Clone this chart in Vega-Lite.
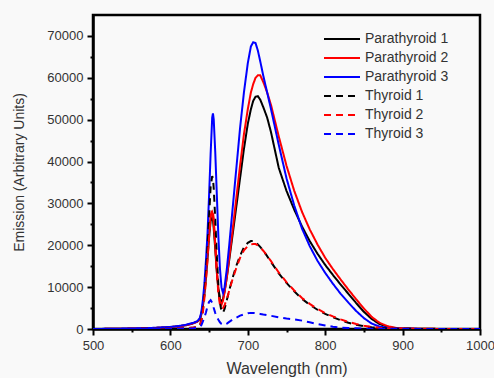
{
  "$schema": "https://vega.github.io/schema/vega-lite/v6.json",
  "width": 387,
  "height": 314,
  "autosize": "none",
  "padding": {"left": 93, "top": 15, "right": 14, "bottom": 49},
  "background": "#f9f9f9",
  "config": {
    "view": {"stroke": "#000", "strokeWidth": 2.5},
    "font": "Liberation Sans"
  },
  "data": {
    "values": [
      {"w": 500, "Parathyroid 1": 0, "Parathyroid 2": 0, "Parathyroid 3": 0, "Thyroid 1": 0, "Thyroid 2": 0, "Thyroid 3": 0},
      {"w": 525, "Parathyroid 1": 50, "Parathyroid 2": 50, "Parathyroid 3": 60, "Thyroid 1": 0, "Thyroid 2": 0, "Thyroid 3": 0},
      {"w": 550, "Parathyroid 1": 100, "Parathyroid 2": 100, "Parathyroid 3": 120, "Thyroid 1": 20, "Thyroid 2": 20, "Thyroid 3": 10},
      {"w": 575, "Parathyroid 1": 200, "Parathyroid 2": 200, "Parathyroid 3": 250, "Thyroid 1": 50, "Thyroid 2": 50, "Thyroid 3": 30},
      {"w": 600, "Parathyroid 1": 450, "Parathyroid 2": 450, "Parathyroid 3": 500, "Thyroid 1": 100, "Thyroid 2": 100, "Thyroid 3": 50},
      {"w": 610, "Parathyroid 1": 650, "Parathyroid 2": 650, "Parathyroid 3": 700, "Thyroid 1": 150, "Thyroid 2": 150, "Thyroid 3": 70},
      {"w": 620, "Parathyroid 1": 900, "Parathyroid 2": 900, "Parathyroid 3": 1000, "Thyroid 1": 200, "Thyroid 2": 200, "Thyroid 3": 100},
      {"w": 630, "Parathyroid 1": 1400, "Parathyroid 2": 1400, "Parathyroid 3": 1500, "Thyroid 1": 350, "Thyroid 2": 350, "Thyroid 3": 200},
      {"w": 635, "Parathyroid 1": 1800, "Parathyroid 2": 1800, "Parathyroid 3": 1900, "Thyroid 1": 500, "Thyroid 2": 500, "Thyroid 3": 300},
      {"w": 638, "Parathyroid 1": 2200, "Parathyroid 2": 2300, "Parathyroid 3": 2600, "Thyroid 1": 900, "Thyroid 2": 800, "Thyroid 3": 500},
      {"w": 640, "Parathyroid 1": 3500, "Parathyroid 2": 3800, "Parathyroid 3": 4000, "Thyroid 1": 2000, "Thyroid 2": 1800, "Thyroid 3": 900},
      {"w": 642, "Parathyroid 1": 5500, "Parathyroid 2": 6000, "Parathyroid 3": 7000, "Thyroid 1": 4500, "Thyroid 2": 4000, "Thyroid 3": 1800},
      {"w": 644, "Parathyroid 1": 8500, "Parathyroid 2": 9000, "Parathyroid 3": 11000, "Thyroid 1": 8500, "Thyroid 2": 7500, "Thyroid 3": 2800},
      {"w": 646, "Parathyroid 1": 12500, "Parathyroid 2": 13000, "Parathyroid 3": 16500, "Thyroid 1": 13500, "Thyroid 2": 11500, "Thyroid 3": 4000},
      {"w": 648, "Parathyroid 1": 17000, "Parathyroid 2": 18000, "Parathyroid 3": 23000, "Thyroid 1": 19500, "Thyroid 2": 16500, "Thyroid 3": 5500},
      {"w": 650, "Parathyroid 1": 22000, "Parathyroid 2": 23000, "Parathyroid 3": 32000, "Thyroid 1": 27000, "Thyroid 2": 22000, "Thyroid 3": 6500},
      {"w": 652, "Parathyroid 1": 25800, "Parathyroid 2": 27000, "Parathyroid 3": 42000, "Thyroid 1": 34000, "Thyroid 2": 27000, "Thyroid 3": 6900},
      {"w": 654, "Parathyroid 1": 26600, "Parathyroid 2": 27900, "Parathyroid 3": 50500, "Thyroid 1": 36500, "Thyroid 2": 28500, "Thyroid 3": 6300},
      {"w": 655, "Parathyroid 1": 26000, "Parathyroid 2": 27300, "Parathyroid 3": 51500, "Thyroid 1": 36000, "Thyroid 2": 28000, "Thyroid 3": 5800},
      {"w": 656, "Parathyroid 1": 24000, "Parathyroid 2": 25500, "Parathyroid 3": 50000, "Thyroid 1": 33500, "Thyroid 2": 26000, "Thyroid 3": 5000},
      {"w": 658, "Parathyroid 1": 19000, "Parathyroid 2": 20000, "Parathyroid 3": 42000, "Thyroid 1": 26000, "Thyroid 2": 20000, "Thyroid 3": 3800},
      {"w": 660, "Parathyroid 1": 13500, "Parathyroid 2": 14000, "Parathyroid 3": 32000, "Thyroid 1": 17500, "Thyroid 2": 13500, "Thyroid 3": 2900},
      {"w": 662, "Parathyroid 1": 9500, "Parathyroid 2": 9300, "Parathyroid 3": 22000, "Thyroid 1": 10500, "Thyroid 2": 8500, "Thyroid 3": 2200},
      {"w": 664, "Parathyroid 1": 7200, "Parathyroid 2": 6500, "Parathyroid 3": 14500, "Thyroid 1": 6300, "Thyroid 2": 5800, "Thyroid 3": 1600},
      {"w": 666, "Parathyroid 1": 6500, "Parathyroid 2": 5800, "Parathyroid 3": 10000, "Thyroid 1": 4200, "Thyroid 2": 5000, "Thyroid 3": 1200},
      {"w": 668, "Parathyroid 1": 7200, "Parathyroid 2": 6800, "Parathyroid 3": 8600, "Thyroid 1": 3900, "Thyroid 2": 5000, "Thyroid 3": 1000},
      {"w": 670, "Parathyroid 1": 9000, "Parathyroid 2": 8800, "Parathyroid 3": 10000, "Thyroid 1": 4800, "Thyroid 2": 5700, "Thyroid 3": 1050},
      {"w": 673, "Parathyroid 1": 12500, "Parathyroid 2": 12500, "Parathyroid 3": 14500, "Thyroid 1": 7000, "Thyroid 2": 7200, "Thyroid 3": 1300},
      {"w": 676, "Parathyroid 1": 16500, "Parathyroid 2": 17000, "Parathyroid 3": 20000, "Thyroid 1": 9200, "Thyroid 2": 9200, "Thyroid 3": 1700},
      {"w": 680, "Parathyroid 1": 22000, "Parathyroid 2": 23000, "Parathyroid 3": 28000, "Thyroid 1": 12000, "Thyroid 2": 11700, "Thyroid 3": 2200},
      {"w": 685, "Parathyroid 1": 29000, "Parathyroid 2": 31000, "Parathyroid 3": 38000, "Thyroid 1": 15000, "Thyroid 2": 14500, "Thyroid 3": 2700},
      {"w": 690, "Parathyroid 1": 36000, "Parathyroid 2": 39000, "Parathyroid 3": 48000, "Thyroid 1": 17500, "Thyroid 2": 17000, "Thyroid 3": 3200},
      {"w": 695, "Parathyroid 1": 43000, "Parathyroid 2": 46500, "Parathyroid 3": 56500, "Thyroid 1": 19500, "Thyroid 2": 18800, "Thyroid 3": 3500},
      {"w": 700, "Parathyroid 1": 49000, "Parathyroid 2": 52500, "Parathyroid 3": 63500, "Thyroid 1": 20600, "Thyroid 2": 19800, "Thyroid 3": 3750},
      {"w": 704, "Parathyroid 1": 52500, "Parathyroid 2": 56500, "Parathyroid 3": 67500, "Thyroid 1": 21000, "Thyroid 2": 20200, "Thyroid 3": 3850},
      {"w": 707, "Parathyroid 1": 54500, "Parathyroid 2": 58500, "Parathyroid 3": 68500, "Thyroid 1": 21000, "Thyroid 2": 20300, "Thyroid 3": 3850},
      {"w": 710, "Parathyroid 1": 55500, "Parathyroid 2": 60000, "Parathyroid 3": 68300, "Thyroid 1": 20700, "Thyroid 2": 20300, "Thyroid 3": 3800},
      {"w": 713, "Parathyroid 1": 55600, "Parathyroid 2": 60600, "Parathyroid 3": 66500, "Thyroid 1": 20200, "Thyroid 2": 20000, "Thyroid 3": 3700},
      {"w": 716, "Parathyroid 1": 54800, "Parathyroid 2": 60600, "Parathyroid 3": 64000, "Thyroid 1": 19600, "Thyroid 2": 19500, "Thyroid 3": 3600},
      {"w": 720, "Parathyroid 1": 53000, "Parathyroid 2": 59000, "Parathyroid 3": 60500, "Thyroid 1": 18700, "Thyroid 2": 18700, "Thyroid 3": 3450},
      {"w": 725, "Parathyroid 1": 50500, "Parathyroid 2": 56500, "Parathyroid 3": 56500, "Thyroid 1": 17400, "Thyroid 2": 17500, "Thyroid 3": 3300},
      {"w": 730, "Parathyroid 1": 47000, "Parathyroid 2": 53500, "Parathyroid 3": 52500, "Thyroid 1": 16000, "Thyroid 2": 16200, "Thyroid 3": 3150},
      {"w": 740, "Parathyroid 1": 38500, "Parathyroid 2": 46000, "Parathyroid 3": 44000, "Thyroid 1": 13300, "Thyroid 2": 13500, "Thyroid 3": 2800},
      {"w": 750, "Parathyroid 1": 33000, "Parathyroid 2": 39000, "Parathyroid 3": 36000, "Thyroid 1": 11000, "Thyroid 2": 11200, "Thyroid 3": 2500},
      {"w": 760, "Parathyroid 1": 28500, "Parathyroid 2": 33000, "Parathyroid 3": 29500, "Thyroid 1": 9000, "Thyroid 2": 9200, "Thyroid 3": 2300},
      {"w": 770, "Parathyroid 1": 24500, "Parathyroid 2": 28000, "Parathyroid 3": 24000, "Thyroid 1": 7200, "Thyroid 2": 7400, "Thyroid 3": 2000},
      {"w": 780, "Parathyroid 1": 21000, "Parathyroid 2": 23800, "Parathyroid 3": 19800, "Thyroid 1": 5800, "Thyroid 2": 6000, "Thyroid 3": 1600},
      {"w": 790, "Parathyroid 1": 18000, "Parathyroid 2": 20200, "Parathyroid 3": 16300, "Thyroid 1": 4600, "Thyroid 2": 4800, "Thyroid 3": 1200},
      {"w": 800, "Parathyroid 1": 15300, "Parathyroid 2": 17000, "Parathyroid 3": 13400, "Thyroid 1": 3600, "Thyroid 2": 3800, "Thyroid 3": 850},
      {"w": 810, "Parathyroid 1": 12900, "Parathyroid 2": 14300, "Parathyroid 3": 10800, "Thyroid 1": 2800, "Thyroid 2": 3000, "Thyroid 3": 550},
      {"w": 820, "Parathyroid 1": 10600, "Parathyroid 2": 11800, "Parathyroid 3": 8400, "Thyroid 1": 2100, "Thyroid 2": 2300, "Thyroid 3": 350},
      {"w": 830, "Parathyroid 1": 8400, "Parathyroid 2": 9400, "Parathyroid 3": 6300, "Thyroid 1": 1500, "Thyroid 2": 1700, "Thyroid 3": 220},
      {"w": 840, "Parathyroid 1": 6200, "Parathyroid 2": 7100, "Parathyroid 3": 4300, "Thyroid 1": 1000, "Thyroid 2": 1200, "Thyroid 3": 150},
      {"w": 850, "Parathyroid 1": 4100, "Parathyroid 2": 4900, "Parathyroid 3": 2600, "Thyroid 1": 650, "Thyroid 2": 800, "Thyroid 3": 100},
      {"w": 860, "Parathyroid 1": 2400, "Parathyroid 2": 2900, "Parathyroid 3": 1300, "Thyroid 1": 400, "Thyroid 2": 500, "Thyroid 3": 60},
      {"w": 870, "Parathyroid 1": 1200, "Parathyroid 2": 1500, "Parathyroid 3": 600, "Thyroid 1": 250, "Thyroid 2": 300, "Thyroid 3": 40},
      {"w": 880, "Parathyroid 1": 550, "Parathyroid 2": 700, "Parathyroid 3": 250, "Thyroid 1": 150, "Thyroid 2": 180, "Thyroid 3": 30},
      {"w": 890, "Parathyroid 1": 250, "Parathyroid 2": 300, "Parathyroid 3": 120, "Thyroid 1": 80, "Thyroid 2": 100, "Thyroid 3": 20},
      {"w": 900, "Parathyroid 1": 120, "Parathyroid 2": 150, "Parathyroid 3": 60, "Thyroid 1": 50, "Thyroid 2": 60, "Thyroid 3": 10},
      {"w": 925, "Parathyroid 1": 50, "Parathyroid 2": 50, "Parathyroid 3": 20, "Thyroid 1": 20, "Thyroid 2": 20, "Thyroid 3": 5},
      {"w": 950, "Parathyroid 1": 20, "Parathyroid 2": 20, "Parathyroid 3": 10, "Thyroid 1": 10, "Thyroid 2": 10, "Thyroid 3": 0},
      {"w": 975, "Parathyroid 1": 10, "Parathyroid 2": 10, "Parathyroid 3": 5, "Thyroid 1": 5, "Thyroid 2": 5, "Thyroid 3": 0},
      {"w": 1000, "Parathyroid 1": 0, "Parathyroid 2": 0, "Parathyroid 3": 0, "Thyroid 1": 0, "Thyroid 2": 0, "Thyroid 3": 0}
    ]
  },
  "transform": [
    {"fold": ["Parathyroid 1", "Parathyroid 2", "Parathyroid 3", "Thyroid 1", "Thyroid 2", "Thyroid 3"], "as": ["series", "v"]}
  ],
  "mark": {"type": "line", "strokeWidth": 2, "clip": true},
  "encoding": {
    "x": {
      "field": "w", "type": "quantitative",
      "scale": {"domain": [500, 1000], "nice": false, "zero": false},
      "axis": {
        "title": "Wavelength (nm)",
        "values": [500, 550, 600, 650, 700, 750, 800, 850, 900, 950, 1000],
        "labelExpr": "datum.value % 100 === 0 ? datum.label : ''",
        "format": "d",
        "grid": false,
        "domainColor": "#000", "domainWidth": 2.5,
        "tickColor": "#000", "tickWidth": 2,
        "tickSize": {"condition": {"test": "datum.value % 100 !== 0", "value": 3}, "value": 6},
        "labelFontSize": 13, "labelColor": "#333", "labelPadding": 4, "labelFlush": false,
        "titleFontSize": 16, "titleColor": "#333", "titleFontWeight": "normal", "titlePadding": 8
      }
    },
    "y": {
      "field": "v", "type": "quantitative",
      "scale": {"domain": [0, 75000], "nice": false},
      "axis": {
        "title": "Emission (Arbitrary Units)",
        "values": [0, 5000, 10000, 15000, 20000, 25000, 30000, 35000, 40000, 45000, 50000, 55000, 60000, 65000, 70000],
        "labelExpr": "datum.value % 10000 === 0 ? datum.label : ''",
        "format": "d",
        "grid": false,
        "domainColor": "#000", "domainWidth": 2.5,
        "tickColor": "#000", "tickWidth": 2,
        "tickSize": {"condition": {"test": "datum.value % 10000 !== 0", "value": 3}, "value": 6},
        "labelFontSize": 13, "labelColor": "#333", "labelPadding": 4, "labelFlush": false,
        "titleFontSize": 14, "titleColor": "#333", "titleFontWeight": "normal", "titlePadding": 20
      }
    },
    "color": {
      "field": "series", "type": "nominal",
      "scale": {
        "domain": ["Parathyroid 1", "Parathyroid 2", "Parathyroid 3", "Thyroid 1", "Thyroid 2", "Thyroid 3"],
        "range": ["#000000", "#ff0000", "#0000ff", "#000000", "#ff0000", "#0000ff"]
      },
      "legend": {
        "title": null, "orient": "none", "legendX": 239, "legendY": 14,
        "symbolType": "M-2,0H2", "symbolSize": 324, "symbolStrokeWidth": 2,
        "labelFontSize": 14, "labelColor": "#333", "labelOffset": 13, "rowPadding": 2
      }
    },
    "strokeDash": {
      "field": "series", "type": "nominal",
      "scale": {
        "domain": ["Parathyroid 1", "Parathyroid 2", "Parathyroid 3", "Thyroid 1", "Thyroid 2", "Thyroid 3"],
        "range": [[1, 0], [1, 0], [1, 0], [7, 5], [7, 5], [7, 5]]
      },
      "legend": {
        "title": null, "orient": "none", "legendX": 239, "legendY": 14,
        "symbolType": "M-2,0H2", "symbolSize": 324, "symbolStrokeWidth": 2,
        "labelFontSize": 14, "labelColor": "#333", "labelOffset": 13, "rowPadding": 2
      }
    }
  }
}
